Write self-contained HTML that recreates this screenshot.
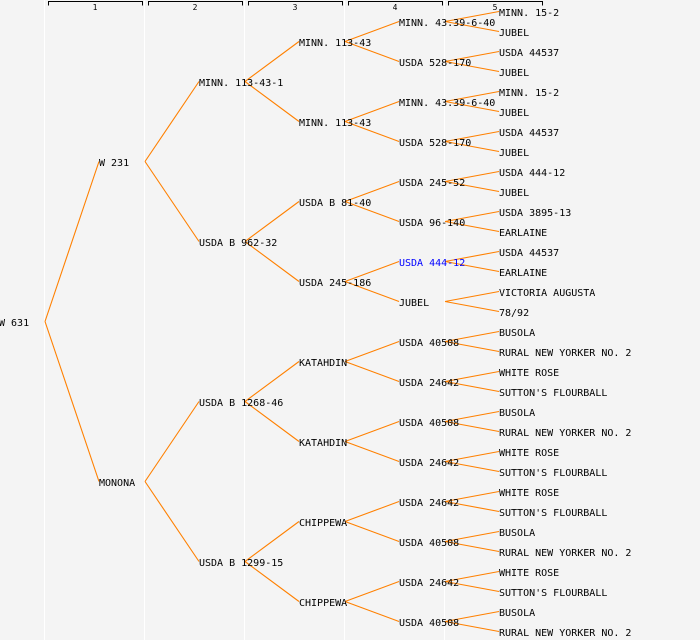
<!DOCTYPE html>
<html><head><meta charset="utf-8"><style>
body{margin:0;background:#f4f4f4;}
svg{display:block;}
text{font-family:"DejaVu Sans Mono","Liberation Mono",monospace;font-size:10px;fill:#000;}
</style></head><body>
<svg id="chart" width="700" height="640" viewBox="0 0 700 640">
<rect width="700" height="640" fill="#f4f4f4"/>
<g id="grid"></g><g id="links"></g><g id="labels"></g>
</svg>
<script>
const generationLabels = ["1","2","3","4","5"];
const highlightNames = ["USDA 444-12@4"];
const kat={n:"KATAHDIN",c:[{n:"USDA 40508",c:[{n:"BUSOLA"},{n:"RURAL NEW YORKER NO. 2"}]},{n:"USDA 24642",c:[{n:"WHITE ROSE"},{n:"SUTTON'S FLOURBALL"}]}]};
const chip={n:"CHIPPEWA",c:[{n:"USDA 24642",c:[{n:"WHITE ROSE"},{n:"SUTTON'S FLOURBALL"}]},{n:"USDA 40508",c:[{n:"BUSOLA"},{n:"RURAL NEW YORKER NO. 2"}]}]};
const m113={n:"MINN. 113-43",c:[{n:"MINN. 43.39-6-40",c:[{n:"MINN. 15-2"},{n:"JUBEL"}]},{n:"USDA 528-170",c:[{n:"USDA 44537"},{n:"JUBEL"}]}]};
const tree={n:"W 631",c:[
 {n:"W 231",c:[
  {n:"MINN. 113-43-1",c:[m113,m113]},
  {n:"USDA B 962-32",c:[
   {n:"USDA B 81-40",c:[{n:"USDA 245-52",c:[{n:"USDA 444-12"},{n:"JUBEL"}]},{n:"USDA 96-140",c:[{n:"USDA 3895-13"},{n:"EARLAINE"}]}]},
   {n:"USDA 245-186",c:[{n:"USDA 444-12",c:[{n:"USDA 44537"},{n:"EARLAINE"}]},{n:"JUBEL",c:[{n:"VICTORIA AUGUSTA"},{n:"78/92"}]}]}
  ]}
 ]},
 {n:"MONONA",c:[
  {n:"USDA B 1268-46",c:[kat,kat]},
  {n:"USDA B 1299-15",c:[chip,chip]}
 ]}
]};
const NS="http://www.w3.org/2000/svg";
const colX=d=>d*100-1;
const rowY=i=>12+i*20;
const grid=document.getElementById('grid'),links=document.getElementById('links'),labels=document.getElementById('labels');
generationLabels.forEach((g,i)=>{
  const x0=48+i*100;
  const l=document.createElementNS(NS,'line');l.setAttribute('x1',44.5+i*100);l.setAttribute('x2',44.5+i*100);l.setAttribute('y1',0);l.setAttribute('y2',640);l.setAttribute('stroke','#fff');
  
  
  grid.appendChild(l);
  const p=document.createElementNS(NS,'path');p.setAttribute('d',`M${x0+.5} 5.5V1.5H${x0+94.5}V5.5`);p.setAttribute('stroke','#000');p.setAttribute('fill','none');
  
  
  grid.appendChild(p);
  const t=document.createElementNS(NS,'text');t.setAttribute('x',x0+47);t.setAttribute('y',10);t.setAttribute('text-anchor','middle');t.setAttribute('style','font-size:8px');t.textContent=g;
  
  
  grid.appendChild(t);
});
let leaf=0;
function layout(n,d){
  if(!n.c){n.y=rowY(leaf++);}
  else{n.c.forEach(c=>layout(c,d+1));n.y=(n.c[0].y+n.c[n.c.length-1].y)/2;}
  n.d=d;
}
const copy=JSON.parse(JSON.stringify(tree));
layout(copy,0);
function draw(n){
  const x=colX(n.d);
  if(n.c){n.c.forEach(c=>{
    const l=document.createElementNS(NS,'line');
    l.setAttribute('x1',x+46);l.setAttribute('y1',n.y-0.5);l.setAttribute('x2',colX(c.d));l.setAttribute('y2',c.y-0.5);
    l.setAttribute('stroke','#ff8000');
    l.setAttribute('stroke-width','1.1');
    
    
    links.appendChild(l);draw(c);});}
  const t=document.createElementNS(NS,'text');
  t.setAttribute('x',x);t.setAttribute('y',n.y+4);t.textContent=n.n;
  if(highlightNames.includes(n.n+'@'+n.d)&&n.c)t.setAttribute('style','fill:#0000ff');
  
  
  labels.appendChild(t);
}
draw(copy);
</script>
</body></html>
